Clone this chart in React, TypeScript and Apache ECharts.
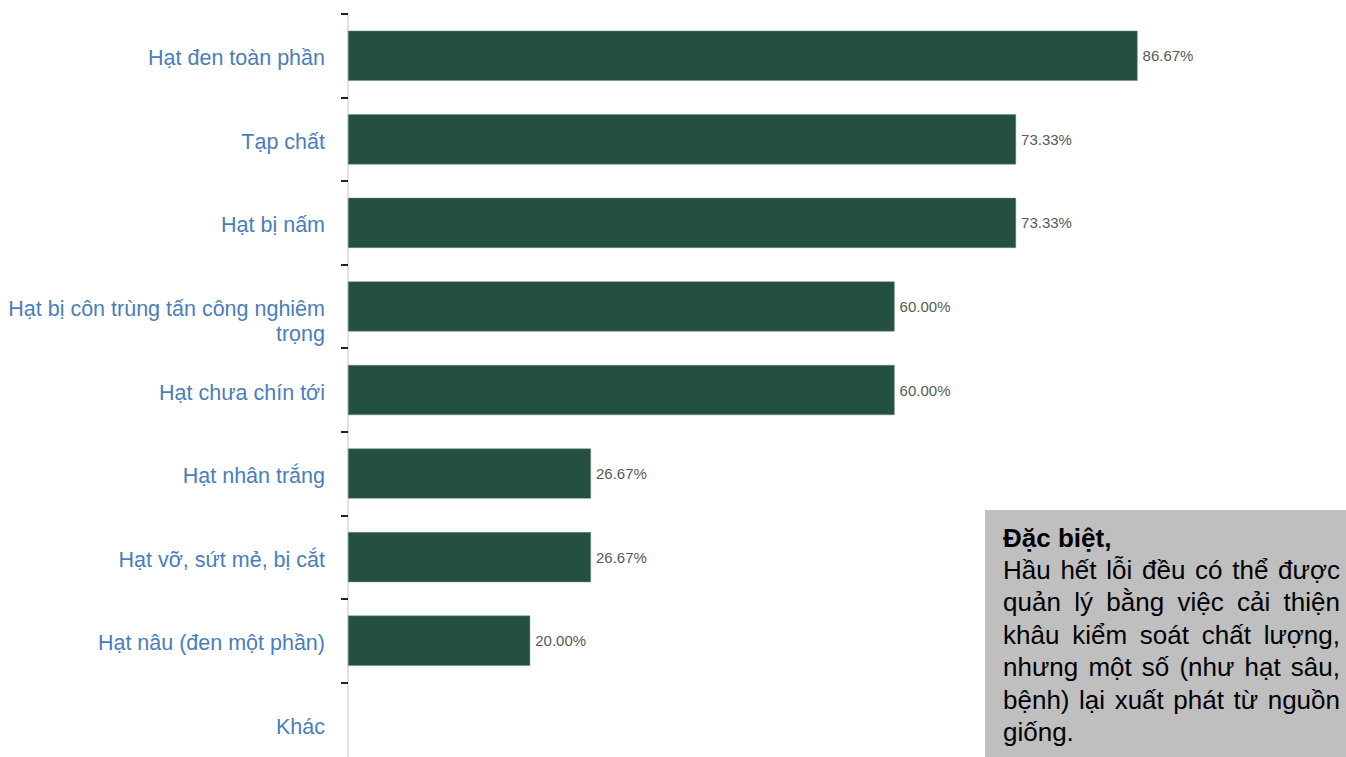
import React, { useEffect, useRef } from "react";
import * as echarts from "echarts";

const categories = [
  "Hạt đen toàn phần",
  "Tạp chất",
  "Hạt bị nấm",
  "Hạt bị côn trùng tấn công nghiêm trọng",
  "Hạt chưa chín tới",
  "Hạt nhân trắng",
  "Hạt vỡ, sứt mẻ, bị cắt",
  "Hạt nâu (đen một phần)",
  "Khác",
];
const values = [86.67, 73.33, 73.33, 60.0, 60.0, 26.67, 26.67, 20.0, null];

const noteTitle = "Đặc biệt,";
const noteLines = [
  "Hầu hết lỗi đều có thể được",
  "quản lý bằng việc cải thiện",
  "khâu kiểm soát chất lượng,",
  "nhưng một số (như hạt sâu,",
  "bệnh) lại xuất phát từ nguồn",
  "giống.",
];

const NOTE_FONT = "26px 'Liberation Sans', Arial, sans-serif";
const LABEL_FAMILY = "'Liberation Sans', Arial, sans-serif";
const LABEL_COLOR = "#4a7ebb";

function justifiedLine(text: string, x0: number, x1: number, y: number, justify: boolean) {
  const words = text.split(" ");
  const canvas = document.createElement("canvas");
  const ctx = canvas.getContext("2d")!;
  ctx.font = NOTE_FONT;
  const widths = words.map((w) => ctx.measureText(w).width);
  const total = widths.reduce((a, b) => a + b, 0);
  const space = ctx.measureText(" ").width;
  const gap = justify && words.length > 1 ? (x1 - x0 - total) / (words.length - 1) : space;
  const out: any[] = [];
  let x = x0;
  words.forEach((w, i) => {
    out.push({
      type: "text",
      x,
      y,
      style: { text: w, fill: "#000", font: NOTE_FONT, textVerticalAlign: "middle" },
      z: 11,
    });
    x += widths[i] + gap;
  });
  return out;
}

export default function App() {
  const ref = useRef<HTMLDivElement>(null);
  useEffect(() => {
    if (!ref.current) return;
    const chart = echarts.init(ref.current, undefined, { renderer: "svg" });
    const lineH = 32.4;
    const graphics: any[] = [
      {
        type: "rect",
        shape: { x: 985, y: 510, width: 361, height: 247 },
        style: { fill: "#bfbfbf" },
        z: 10,
      },
      {
        type: "text",
        x: 1003,
        y: 538,
        style: {
          text: noteTitle,
          fill: "#000",
          font: "bold 26px 'Liberation Sans', Arial, sans-serif",
          textVerticalAlign: "middle",
        },
        z: 11,
      },
    ];
    noteLines.forEach((t, i) => {
      graphics.push(
        ...justifiedLine(t, 1003, 1340, 570 + i * lineH, i < noteLines.length - 1)
      );
    });
    chart.setOption({
      animation: false,
      grid: {
        left: 348,
        top: 14,
        width: 911,
        height: 752,
        containLabel: false,
        outerBoundsMode: "none",
      },
      xAxis: {
        type: "value",
        min: 0,
        max: 100,
        show: false,
      },
      yAxis: {
        type: "category",
        inverse: true,
        data: categories,
        axisLine: { show: true, lineStyle: { color: "#d9d9d9", width: 1.5 } },
        axisTick: {
          show: true,
          length: 7,
          lineStyle: { color: "#222", width: 2 },
        },
        axisLabel: {
          color: LABEL_COLOR,
          fontSize: 21.5,
          fontFamily: LABEL_FAMILY,
          margin: 23,
          overflow: "none",
          lineHeight: 26,
          align: "right",
          padding: [5, 0, 0, 0],
          formatter: (v: string) => {
            const i = v.indexOf(" trọng");
            if (i > 0 && v.length > 30) {
              return "{sp| }\n{t|" + v.slice(0, i) + "}\n{t|" + v.slice(i + 1) + "}";
            }
            return v;
          },
          rich: {
            sp: { fontSize: 2, lineHeight: 26 },
            t: {
              fontSize: 21.5,
              lineHeight: 25,
              color: LABEL_COLOR,
              fontFamily: LABEL_FAMILY,
            },
          },
        },
        splitLine: { show: false },
      },
      series: [
        {
          type: "bar",
          data: values,
          barCategoryGap: "40%",
          itemStyle: { color: "#23503f", borderColor: "#6e8f84", borderWidth: 0.5 },
          label: {
            show: true,
            position: "right",
            distance: 5,
            color: "#595959",
            fontSize: 15,
            fontFamily: "'Liberation Sans', Arial, sans-serif",
            formatter: (p: any) => (p.value == null ? "" : Number(p.value).toFixed(2) + "%"),
          },
        },
      ],
      graphic: graphics,
    });
    return () => chart.dispose();
  }, []);
  return (
    <div
      ref={ref}
      style={{ position: "fixed", left: 0, top: 0, width: 1346, height: 757, background: "#fff" }}
    />
  );
}
